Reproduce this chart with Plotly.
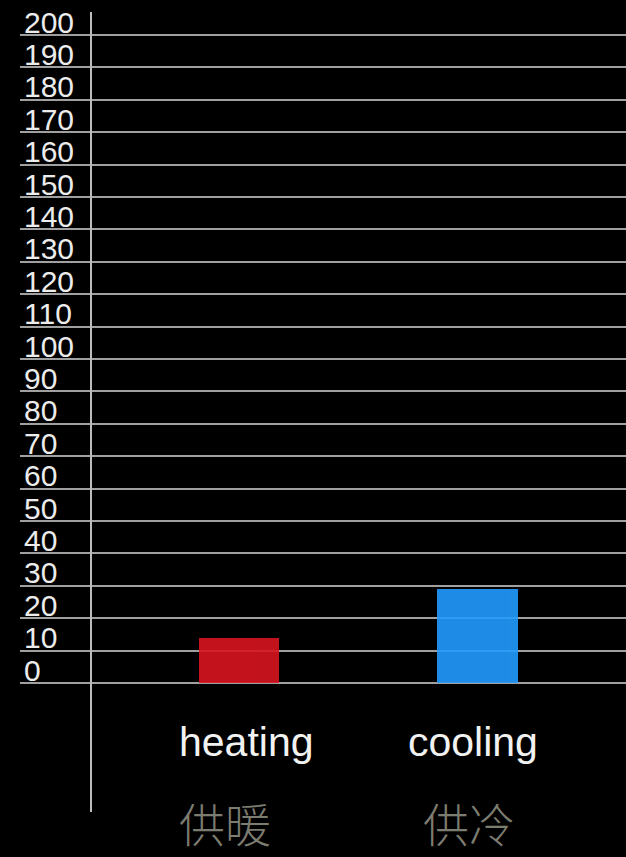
import plotly.graph_objects as go

# Energy use by mode
categories = ["heating", "cooling"]
labels_zh = ["供暖", "供冷"]
values = [14, 29]
bar_colors = ["#d8141f", "#229bff"]
y_ticks = list(range(0, 201, 10))

W, H = 626, 857
ZERO_PX = 683.0          # pixel row of value 0
PX_PER_UNIT = 3.24       # vertical pixels per unit
Y_MIN = -4.0
M_L, M_R, M_T = 20, 0, 0
M_B = int(round(H - (ZERO_PX - Y_MIN * PX_PER_UNIT)))
plot_w = W - M_L - M_R
plot_h = H - M_T - M_B
y_top = Y_MIN + plot_h / PX_PER_UNIT


def paper_y(px):
    return (H - M_B - px) / plot_h


fig = go.Figure()
fig.add_trace(go.Bar(
    x=categories,
    y=values,
    marker=dict(color=bar_colors, line=dict(width=0)),
    opacity=0.9,
    width=0.336,
    showlegend=False,
    hoverinfo="skip",
))

# vertical axis line reaching below the category labels
axis_x = (91 - M_L) / plot_w
fig.add_shape(type="line", xref="paper", yref="paper",
              x0=axis_x, x1=axis_x, y0=paper_y(812), y1=paper_y(12),
              line=dict(color="#bdbdbd", width=2), layer="above")

# English and Chinese category names under each bar
for cat, dx_en, zh, dx_zh in zip(categories, [7, -5], labels_zh, [-14, -9]):
    fig.add_annotation(x=cat, xref="x", y=paper_y(742), yref="paper",
                       text=cat, showarrow=False, xanchor="center", yanchor="middle",
                       xshift=dx_en,
                       font=dict(family="Liberation Sans, Arial", size=41, color="#f2f2f2"))
    fig.add_annotation(x=cat, xref="x", y=paper_y(822), yref="paper",
                       text=zh, showarrow=False, xanchor="center", yanchor="middle",
                       xshift=dx_zh,
                       font=dict(family="Noto Sans CJK SC", size=46, color="#7c7c70", weight=300))

x0 = -(239 - M_L) / 238.5
x1 = (W - M_R - 239) / 238.5
fig.update_xaxes(
    range=[x0, x1], showgrid=False, showline=False, zeroline=False,
    ticks="", showticklabels=False,
)
fig.update_yaxes(
    range=[Y_MIN, y_top], tickvals=y_ticks, ticktext=[str(v) for v in y_ticks],
    showgrid=True, gridcolor="#a0a0a0", gridwidth=2,
    zeroline=False, showline=False, ticks="",
    ticklabelposition="inside top", ticklabelstandoff=1, ticklabelshift=8,
    tickfont=dict(family="Liberation Sans, Arial", size=30, color="#ececec"),
)
fig.update_layout(
    width=W, height=H,
    margin=dict(l=M_L, r=M_R, t=M_T, b=M_B, pad=0),
    paper_bgcolor="#000000", plot_bgcolor="#000000",
    bargap=0,
)
fig.write_html("out.html")
